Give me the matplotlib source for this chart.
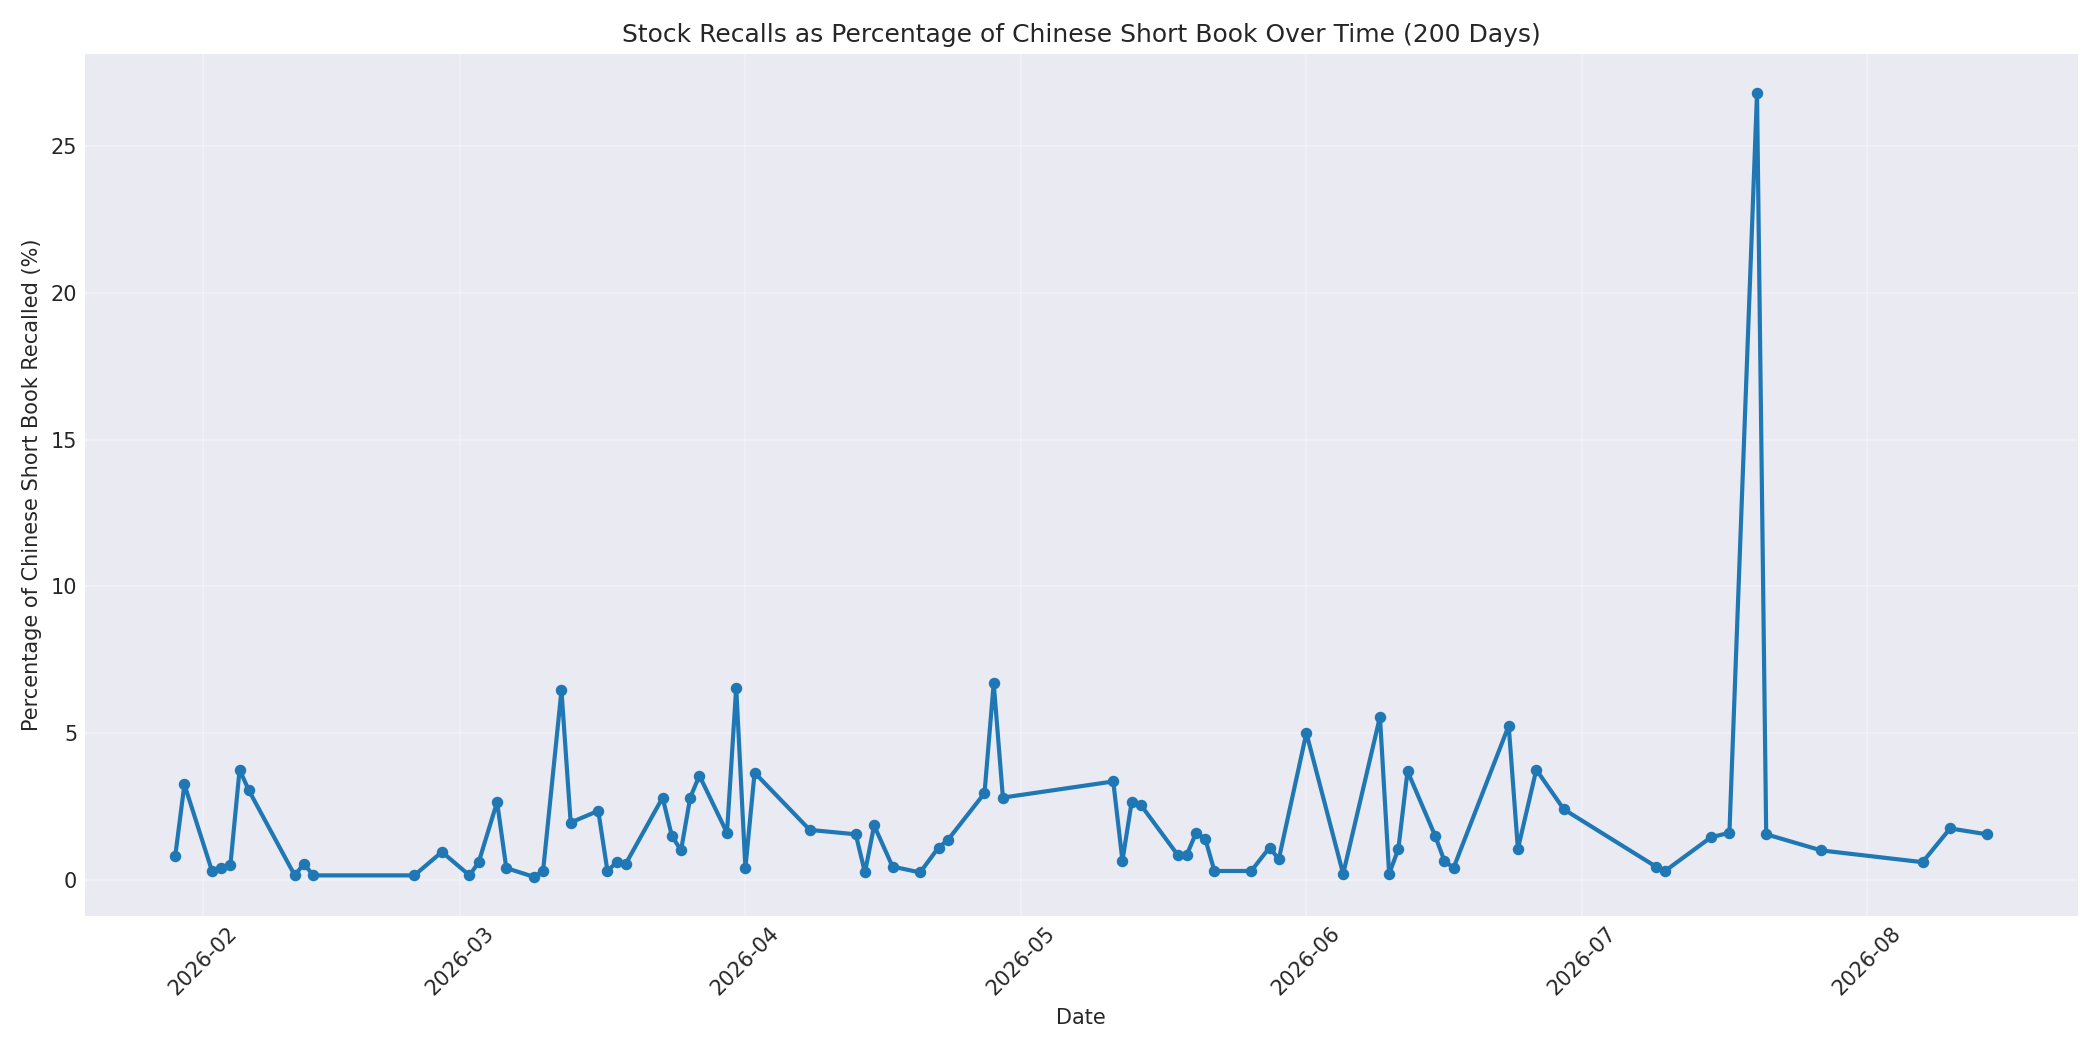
import matplotlib
matplotlib.use("Agg")
import matplotlib.pyplot as plt
import matplotlib.dates as mdates
import pandas as pd

dates = [
    "2026-01-29", "2026-01-30", "2026-02-02", "2026-02-03", "2026-02-04", "2026-02-05",
    "2026-02-06", "2026-02-11", "2026-02-12", "2026-02-13", "2026-02-24", "2026-02-27",
    "2026-03-02", "2026-03-03", "2026-03-05", "2026-03-06", "2026-03-09", "2026-03-10",
    "2026-03-12", "2026-03-13", "2026-03-16", "2026-03-17", "2026-03-18", "2026-03-19",
    "2026-03-23", "2026-03-24", "2026-03-25", "2026-03-26", "2026-03-27", "2026-03-30",
    "2026-03-31", "2026-04-01", "2026-04-02", "2026-04-08", "2026-04-13", "2026-04-14",
    "2026-04-15", "2026-04-17", "2026-04-20", "2026-04-22", "2026-04-23", "2026-04-27",
    "2026-04-28", "2026-04-29", "2026-05-11", "2026-05-12", "2026-05-13", "2026-05-14",
    "2026-05-18", "2026-05-19", "2026-05-20", "2026-05-21", "2026-05-22", "2026-05-26",
    "2026-05-28", "2026-05-29", "2026-06-01", "2026-06-05", "2026-06-09", "2026-06-10",
    "2026-06-11", "2026-06-12", "2026-06-15", "2026-06-16", "2026-06-17", "2026-06-23",
    "2026-06-24", "2026-06-26", "2026-06-29", "2026-07-09", "2026-07-10", "2026-07-15",
    "2026-07-17", "2026-07-20", "2026-07-21", "2026-07-27", "2026-08-07", "2026-08-10",
    "2026-08-14",
]
pct_recalled = [
    0.8, 3.25, 0.3, 0.4, 0.5, 3.75,
    3.05, 0.15, 0.55, 0.15, 0.15, 0.95,
    0.15, 0.6, 2.65, 0.4, 0.1, 0.3,
    6.45, 1.95, 2.35, 0.3, 0.6, 0.55,
    2.8, 1.5, 1.0, 2.8, 3.55, 1.6,
    6.55, 0.4, 3.65, 1.7, 1.55, 0.25,
    1.85, 0.45, 0.25, 1.1, 1.35, 2.95,
    6.7, 2.8, 3.35, 0.65, 2.65, 2.55,
    0.85, 0.85, 1.6, 1.4, 0.3, 0.3,
    1.1, 0.7, 5.0, 0.2, 5.55, 0.2,
    1.05, 3.7, 1.5, 0.65, 0.4, 5.25,
    1.05, 3.75, 2.4, 0.45, 0.3, 1.45,
    1.6, 26.8, 1.55, 1.0, 0.6, 1.75,
    1.55,
]

plt.style.use("seaborn-v0_8-darkgrid")
plt.rcParams['font.family'] = ['DejaVu Sans']
fig, ax = plt.subplots(figsize=(14, 7), dpi=150)
ax.plot(pd.to_datetime(dates), pct_recalled, marker="o", markersize=4.5,
        linewidth=2, color="#1f77b4")
ax.set_title("Stock Recalls as Percentage of Chinese Short Book Over Time (200 Days)", fontsize=12)
ax.set_xlabel("Date")
ax.set_ylabel("Percentage of Chinese Short Book Recalled (%)")
ax.xaxis.set_major_locator(mdates.MonthLocator())
ax.xaxis.set_major_formatter(mdates.DateFormatter("%Y-%m"))
plt.setp(ax.get_xticklabels(), rotation=45)
ax.grid(True, alpha=0.3)
fig.tight_layout()
fig.savefig("out.png")
